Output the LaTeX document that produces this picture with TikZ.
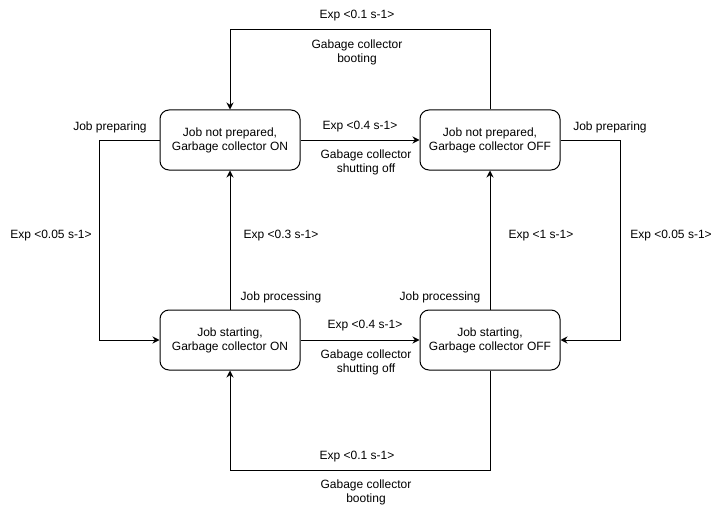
\documentclass[tikz,border=0pt]{standalone}
\usepackage{fontspec}
\setmainfont{Liberation Sans}
\usetikzlibrary{arrows.meta}
\tikzset{
	state/.style={draw,line width=1pt,rounded corners=9pt,minimum width=140pt,minimum height=60pt,align=center,inner sep=0pt},
	lbl/.style={align=center,inner sep=0pt,yshift=-2pt},
	arr/.style={line width=1pt,-{Stealth[length=7pt,width=7pt]}}
}
\begin{document}
\begin{tikzpicture}[x=1pt,y=-1pt,font=\fontsize{12pt}{14pt}\selectfont]
				\useasboundingbox (0,0) rectangle (721,511)
				;
				\node[state] (npOn) at (230,140) {\raisebox{-2pt}{\shortstack{Job not prepared,\\Garbage collector ON}}};
				\node[state] (npOff) at (490,140) {\raisebox{-2pt}{\shortstack{Job not prepared,\\Garbage collector OFF}}};
				\node[state] (stOn) at (230,340) {\raisebox{-2pt}{\shortstack{Job starting,\\Garbage collector ON}}};
				\node[state] (stOff) at (490,340) {\raisebox{-2pt}{\shortstack{Job starting,\\Garbage collector OFF}}};
				% connectors
				\draw[arr] (npOff.north) -- ++(0,-80) -| (npOn.north)
				;
				\draw[arr] (npOn.east) -- (npOff.west)
				;
				\draw[arr] (npOn.west) -- ++(-60,0) |- (stOn.west)
				;
				\draw[arr] (npOff.east) -- ++(60,0) |- (stOff.east)
				;
				\draw[arr] (stOn.north) -- (npOn.south)
				;
				\draw[arr] (stOff.north) -- (npOff.south)
				;
				\draw[arr] (stOn.east) -- (stOff.west)
				;
				\draw[arr] (stOff.south) -- ++(0,100) -| (stOn.south)
				;
				% labels
				\foreach \n/\p/\t in {
					rTop/{357,14}/{Exp <0.1 s-1>},
					gTop/{357,50}/{Gabage collector\\booting},
					rUp/{360,125}/{Exp <0.4 s-1>},
					gUp/{366,160}/{Gabage collector\\shutting off},
					pL/{110,125}/{Job preparing},
					pR/{610,125}/{Job preparing},
					rL/{51,234}/{Exp <0.05 s-1>},
					rR/{671,234}/{Exp <0.05 s-1>},
					rMl/{281,234}/{Exp <0.3 s-1>},
					rMr/{541,234}/{Exp <1 s-1>},
					jL/{281,295}/{Job processing},
					jR/{440,295}/{Job processing},
					rDn/{365,324}/{Exp <0.4 s-1>},
					gDn/{366,360}/{Gabage collector\\shutting off},
					rBot/{357,455}/{Exp <0.1 s-1>},
					gBot/{366,490}/{Gabage collector\\booting}}
					\node[lbl] (\n) at (\p) {\t};
\end{tikzpicture}
\end{document}
